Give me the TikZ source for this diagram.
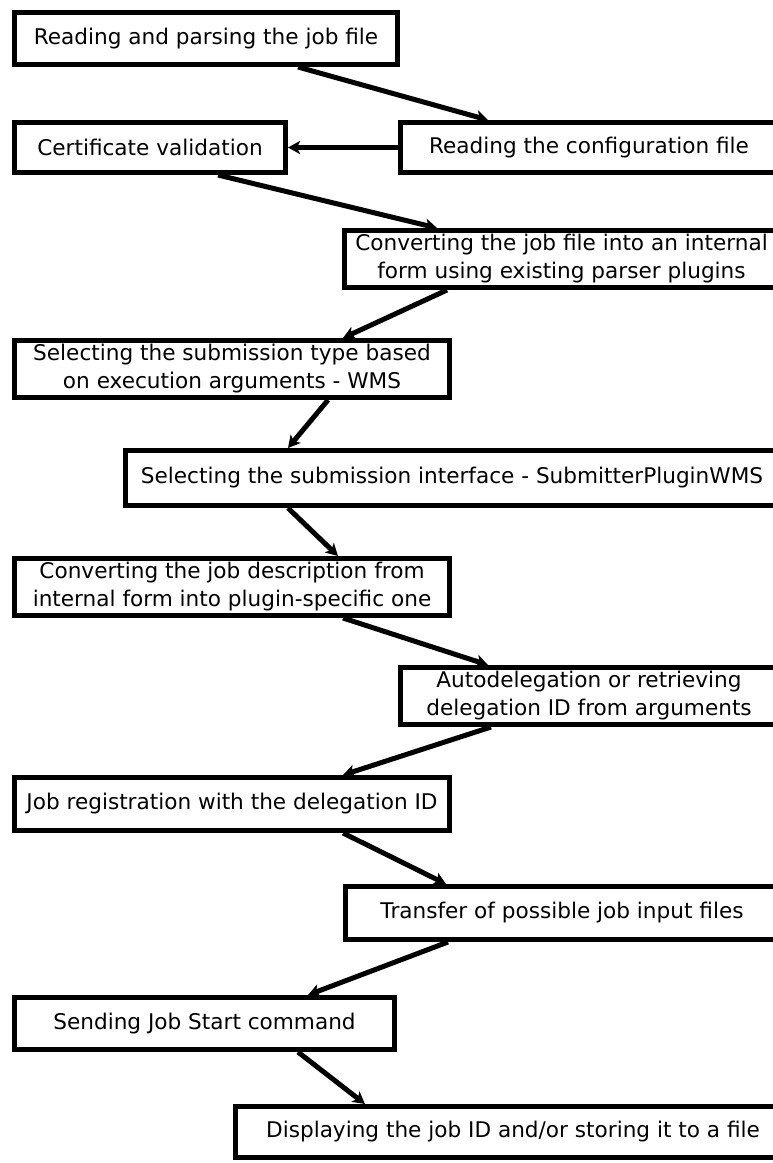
\documentclass[tikz,border=0pt]{standalone}
\usepackage{fontspec}
\setmainfont{DejaVu Sans}
\usetikzlibrary{arrows.meta}
\begin{document}
\begin{tikzpicture}[x=1pt,y=-1pt,
  stepbox/.style={draw=black,line width=5pt,fill=white,inner sep=0pt,align=center,
    font=\fontsize{21.6}{28}\selectfont},
  arr/.style={line width=5pt,-{Stealth[length=12pt,width=13pt,inset=3pt]}}]
\useasboundingbox (0,0) rectangle (772,1163);
\newcommand{\mybox}[7]{%
  \node[stepbox,minimum width={#3-#2-5pt},minimum height={#5-#4-5pt}] (#1) at ({(#2+#3)/2},{(#4+#5)/2}) {#6};}
\mybox{b1}{12}{400}{10}{67}{Reading and parsing the job file}{}
\mybox{b2}{12}{288}{120}{175}{Certificate validation}{}
\mybox{b3}{398}{780}{120}{175}{Reading the configuration file}{}
\mybox{b4}{342}{781}{228}{290}{Converting the job file into an internal\\form using existing parser plugins}{}
\mybox{b5}{12}{452}{338}{400}{Selecting the submission type based\\on execution arguments - WMS}{}
\mybox{b6}{123}{781}{448}{508}{Selecting the submission interface - SubmitterPluginWMS}{}
\mybox{b7}{12}{452}{556}{618}{Converting the job description from\\internal form into plugin-specific one}{}
\mybox{b8}{398}{780}{665}{727}{Autodelegation or retrieving\\delegation ID from arguments}{}
\mybox{b9}{12}{452}{775}{833}{Job registration with the delegation ID}{}
\mybox{b10}{343}{781}{884}{942}{Transfer of possible job input files}{}
\mybox{b11}{12}{397}{995}{1052}{Sending Job Start command}{}
\mybox{b12}{233}{793}{1104}{1160}{Displaying the job ID and/or storing it to a file}{}
\draw[arr] ([xshift=286pt]b1.south west) -- ([xshift=90pt]b3.north west);
\draw[arr] (b3.west) -- (b2.east);
\draw[arr] ([xshift=206pt]b2.south west) -- ([xshift=95pt]b4.north west);
\draw[arr] ([xshift=105pt]b4.south west) -- ([xshift=331pt]b5.north west);
\draw[arr] ([xshift=316pt]b5.south west) -- ([xshift=165pt]b6.north west);
\draw[arr] ([xshift=165pt]b6.south west) -- ([xshift=326pt]b7.north west);
\draw[arr] ([xshift=331pt]b7.south west) -- ([xshift=90pt]b8.north west);
\draw[arr] ([xshift=93pt]b8.south west) -- ([xshift=331pt]b9.north west);
\draw[arr] ([xshift=331pt]b9.south west) -- ([xshift=103pt]b10.north west);
\draw[arr] ([xshift=105pt]b10.south west) -- ([xshift=296pt]b11.north west);
\draw[arr] ([xshift=286pt]b11.south west) -- ([xshift=132pt]b12.north west);
\end{tikzpicture}
\end{document}
